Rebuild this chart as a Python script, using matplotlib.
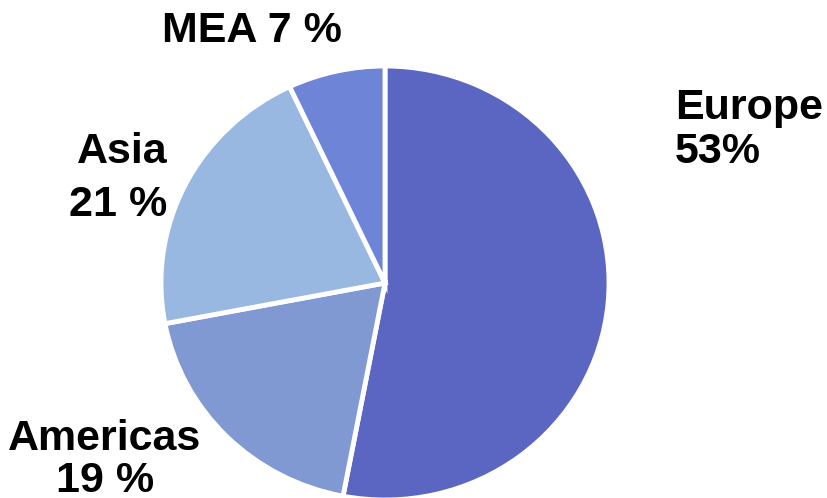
import matplotlib
matplotlib.use("Agg")
import matplotlib.pyplot as plt

# Regional share, clockwise from 12 o'clock
regions = ["Europe", "Americas", "Asia", "MEA"]
shares = [53, 19, 21, 7]
colors = ["#5B66C3", "#8199D3", "#98B8E1", "#6E84D6"]

W, H = 827, 498
fig = plt.figure(figsize=(W / 100, H / 100), dpi=100)

# pie centre and radii in pixels (slightly wider than tall)
cx, cy, rx, ry = 385, 283, 224, 217
ax = fig.add_axes([(cx - rx) / W, (H - cy - ry) / H, 2 * rx / W, 2 * ry / H])
ax.pie(shares, colors=colors, startangle=90, counterclock=False,
       wedgeprops=dict(edgecolor="white", linewidth=3.5))
ax.set_xlim(-1, 1)
ax.set_ylim(-1, 1)
ax.set_aspect("auto")
ax.axis("off")

font = dict(family=["Liberation Sans", "DejaVu Sans"], weight="bold",
            fontsize=31, color="black")


def label(x, y, s, ha):
    fig.text(x / W, 1 - y / H, s, ha=ha, va="baseline", **font)


label(675, 119, "Europe", "left")
label(675, 163, f"{shares[0]}%", "left")
label(122, 163, "Asia", "center")
label(118, 216, f"{shares[2]} %", "center")
label(105, 450, "Americas", "center")
label(105, 492, f"{shares[1]} %", "center")
label(162, 42, f"MEA {shares[3]} %", "left")

fig.savefig("out.png", dpi=100)
